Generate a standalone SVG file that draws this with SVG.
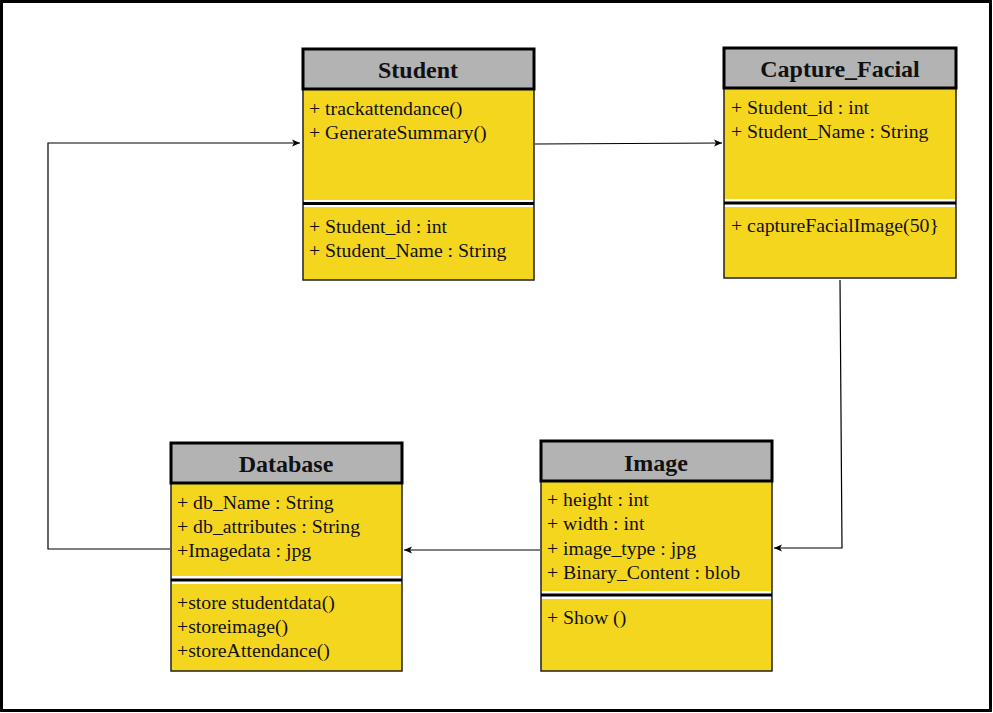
<svg xmlns="http://www.w3.org/2000/svg" width="993" height="713" viewBox="0 0 993 713">
<defs>
<style>
.hd{fill:#b3b3b3;stroke:#000;stroke-width:3}
.bd{fill:#f5d61e;stroke:#222;stroke-width:1.5}
.sepw{fill:#fff}
.sepb{stroke:#000;stroke-width:3}
.tt{font-family:"Liberation Serif",serif;font-weight:bold;font-size:24px;fill:#111;text-anchor:middle}
.tx{font-family:"Liberation Serif",serif;font-size:19.8px;fill:#111}
.cn{fill:none;stroke:#000;stroke-width:1.2}
</style>
<marker id="ar" markerWidth="10" markerHeight="8" refX="8" refY="4" orient="auto" markerUnits="userSpaceOnUse">
<path d="M0,0.5 L8,4 L0,7.5 L2,4 Z" fill="#000"/>
</marker>
</defs>
<rect x="1.5" y="1.5" width="989" height="709" fill="#fff" stroke="#000" stroke-width="3"/>
<g id="connectors">
<path class="cn" d="M535,144 L722,143" marker-end="url(#ar)"/>
<path class="cn" d="M840,280 L842,548 L774,548" marker-end="url(#ar)"/>
<path class="cn" d="M540,550 L404,550" marker-end="url(#ar)"/>
<path class="cn" d="M170,549 L48,549 L48,143 L300,143" marker-end="url(#ar)"/>
</g>
<g id="student">
<rect class="bd" x="303" y="89" width="231" height="191"/>
<rect class="sepw" x="304" y="200" width="229" height="7"/>
<line class="sepb" x1="303" y1="203.5" x2="534" y2="203.5"/>
<rect class="hd" x="303" y="49" width="231" height="40"/>
<text class="tt" x="418" y="78">Student</text>
<text class="tx" x="309" y="115">+ trackattendance()</text>
<text class="tx" x="309" y="139">+ GenerateSummary()</text>
<text class="tx" x="309" y="233">+ Student_id : int</text>
<text class="tx" x="309" y="257">+ Student_Name : String</text>
</g>
<g id="capture_facial">
<rect class="bd" x="724" y="88" width="232" height="190"/>
<rect class="sepw" x="725" y="199" width="230" height="8"/>
<line class="sepb" x1="724" y1="203" x2="956" y2="203"/>
<rect class="hd" x="724" y="48" width="232" height="40"/>
<text class="tt" x="840" y="77">Capture_Facial</text>
<text class="tx" x="731" y="114">+ Student_id : int</text>
<text class="tx" x="731" y="138">+ Student_Name : String</text>
<text class="tx" x="731" y="232">+ captureFacialImage(50}</text>
</g>
<g id="database">
<rect class="bd" x="171" y="483" width="231" height="188"/>
<rect class="sepw" x="172" y="576" width="229" height="8"/>
<line class="sepb" x1="171" y1="580" x2="402" y2="580"/>
<rect class="hd" x="171" y="443" width="231" height="40"/>
<text class="tt" x="286" y="472">Database</text>
<text class="tx" x="177" y="509">+ db_Name : String</text>
<text class="tx" x="177" y="533">+ db_attributes : String</text>
<text class="tx" x="177" y="557">+Imagedata : jpg</text>
<text class="tx" x="177" y="609">+store studentdata()</text>
<text class="tx" x="177" y="633">+storeimage()</text>
<text class="tx" x="177" y="657">+storeAttendance()</text>
</g>
<g id="image">
<rect class="bd" x="541" y="481" width="231" height="190"/>
<rect class="sepw" x="542" y="591" width="229" height="8"/>
<line class="sepb" x1="541" y1="595" x2="772" y2="595"/>
<rect class="hd" x="541" y="441" width="231" height="40"/>
<text class="tt" x="656" y="471">Image</text>
<text class="tx" x="547" y="506">+ height : int</text>
<text class="tx" x="547" y="530">+ width : int</text>
<text class="tx" x="547" y="555">+ image_type : jpg</text>
<text class="tx" x="547" y="579">+ Binary_Content : blob</text>
<text class="tx" x="547" y="624">+ Show ()</text>
</g>
</svg>
